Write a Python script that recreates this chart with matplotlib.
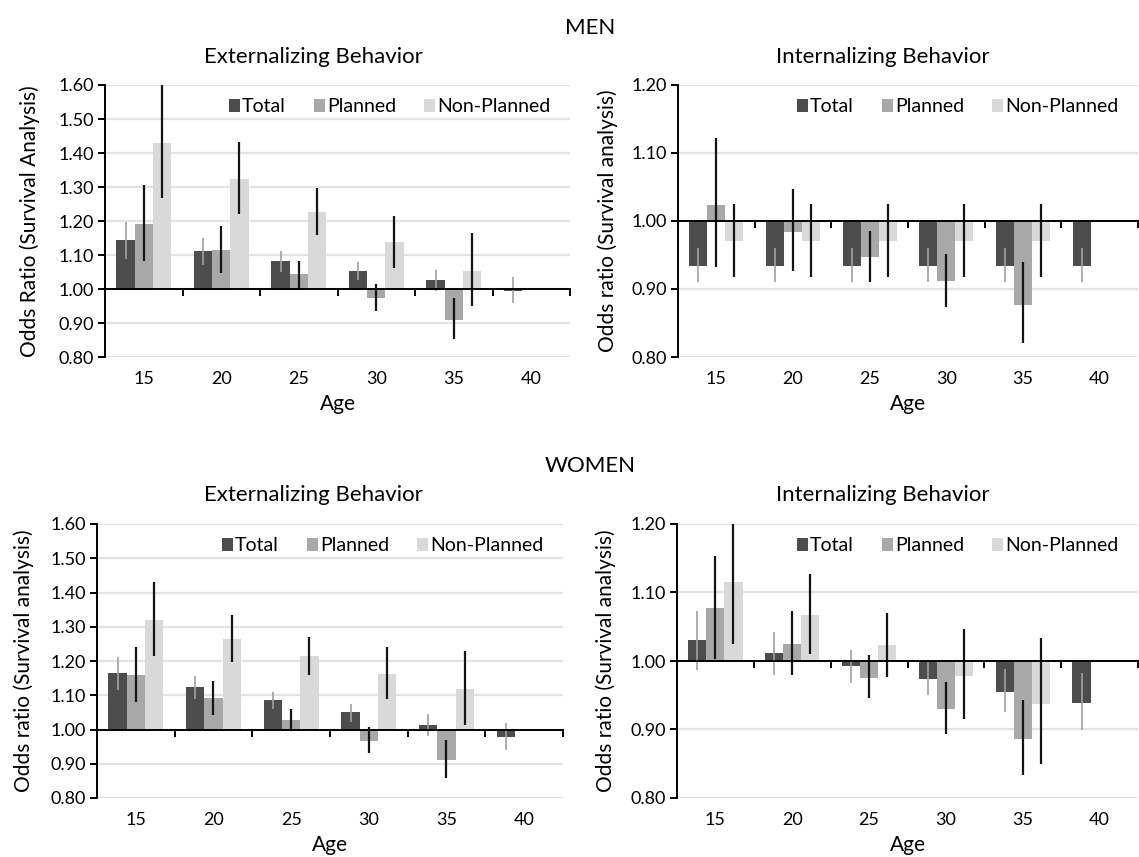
import numpy as np
import matplotlib.pyplot as plt

plt.rcParams['font.family'] = ['Lato', 'DejaVu Sans']

# ---- data (odds ratios) ----
ages = ["15", "20", "25", "30", "35", "40"]
groups = ["Total", "Planned", "Non-Planned"]

# men, externalizing
men_ext_total = [1.144, 1.113, 1.082, 1.054, 1.026, 0.995]
men_ext_total_lo = [1.088, 1.071, 1.051, 1.026, 0.993, 0.959]
men_ext_total_hi = [1.198, 1.150, 1.113, 1.078, 1.056, 1.035]
men_ext_planned = [1.191, 1.115, 1.043, 0.974, 0.910, np.nan]
men_ext_planned_lo = [1.083, 1.048, 1.000, 0.934, 0.853, np.nan]
men_ext_planned_hi = [1.306, 1.185, 1.082, 1.015, 0.974, np.nan]
men_ext_nonpl = [1.430, 1.323, 1.226, 1.137, 1.053, np.nan]
men_ext_nonpl_lo = [1.267, 1.220, 1.159, 1.062, 0.950, np.nan]
men_ext_nonpl_hi = [1.600, 1.433, 1.297, 1.215, 1.165, np.nan]

# men, internalizing
men_int_total = [0.934, 0.934, 0.934, 0.934, 0.934, 0.934]
men_int_total_lo = [0.911, 0.911, 0.911, 0.911, 0.911, 0.911]
men_int_total_hi = [0.960, 0.960, 0.960, 0.960, 0.960, 0.960]
men_int_planned = [1.024, 0.984, 0.947, 0.912, 0.877, np.nan]
men_int_planned_lo = [0.933, 0.927, 0.911, 0.874, 0.820, np.nan]
men_int_planned_hi = [1.122, 1.047, 0.986, 0.952, 0.939, np.nan]
men_int_nonpl = [0.970, 0.970, 0.970, 0.970, 0.970, np.nan]
men_int_nonpl_lo = [0.918, 0.918, 0.918, 0.918, 0.918, np.nan]
men_int_nonpl_hi = [1.025, 1.025, 1.025, 1.025, 1.025, np.nan]

# women, externalizing
wom_ext_total = [1.164, 1.123, 1.087, 1.050, 1.014, 0.977]
wom_ext_total_lo = [1.116, 1.089, 1.060, 1.023, 0.982, 0.939]
wom_ext_total_hi = [1.211, 1.156, 1.109, 1.074, 1.045, 1.020]
wom_ext_planned = [1.158, 1.092, 1.028, 0.966, 0.912, np.nan]
wom_ext_planned_lo = [1.081, 1.043, 0.996, 0.931, 0.858, np.nan]
wom_ext_planned_hi = [1.241, 1.141, 1.060, 1.008, 0.970, np.nan]
wom_ext_nonpl = [1.320, 1.265, 1.214, 1.163, 1.117, np.nan]
wom_ext_nonpl_lo = [1.215, 1.197, 1.159, 1.090, 1.013, np.nan]
wom_ext_nonpl_hi = [1.432, 1.334, 1.269, 1.241, 1.229, np.nan]

# women, internalizing
wom_int_total = [1.030, 1.012, 0.992, 0.973, 0.955, 0.938]
wom_int_total_lo = [0.987, 0.980, 0.968, 0.950, 0.925, 0.899]
wom_int_total_hi = [1.073, 1.042, 1.016, 0.998, 0.988, 0.982]
wom_int_planned = [1.077, 1.025, 0.975, 0.930, 0.886, np.nan]
wom_int_planned_lo = [1.003, 0.979, 0.946, 0.894, 0.833, np.nan]
wom_int_planned_hi = [1.154, 1.073, 1.009, 0.969, 0.943, np.nan]
wom_int_nonpl = [1.115, 1.067, 1.023, 0.978, 0.937, np.nan]
wom_int_nonpl_lo = [1.025, 1.010, 0.976, 0.916, 0.849, np.nan]
wom_int_nonpl_hi = [1.200, 1.127, 1.070, 1.046, 1.034, np.nan]

bar_colors = ["#4d4d4d", "#a8a8a8", "#d9d9d9"]
err_colors = ["#a0a0a0", "#151515", "#151515"]
err_widths = [1.2, 1.6, 1.6]

W, H = 1139, 857
fig = plt.figure(figsize=(W / 100, H / 100), dpi=100)


def px_axes(left, right, top, bottom):
    return fig.add_axes([left / W, (H - bottom) / H, (right - left) / W, (bottom - top) / H])


def panel(ax, series, ylim, ylabel, ylabelpad):
    x = np.arange(len(ages))
    bw = 0.235
    ymin, ymax = ylim
    for k, (vals, lo, hi) in enumerate(series):
        vals = np.array(vals, dtype=float)
        lo = np.array(lo, dtype=float)
        hi = np.array(hi, dtype=float)
        xs = x + (k - 1) * bw
        ax.bar(xs, vals - 1.0, bottom=1.0, width=bw, color=bar_colors[k],
               label=groups[k], zorder=2, linewidth=0)
        ax.vlines(xs, lo, hi, colors=err_colors[k], linewidth=err_widths[k], zorder=3)

    ax.set_xlim(-0.5, len(ages) - 0.5)
    ax.set_ylim(ymin, ymax)
    ax.set_yticks(np.round(np.arange(ymin, ymax + 0.001, 0.1), 2))
    ax.yaxis.set_major_formatter(plt.FormatStrFormatter("%.2f"))
    ax.grid(axis="y", color="#e3e3e3", linewidth=1.6, zorder=0)
    ax.set_axisbelow(True)

    for s in ["top", "right"]:
        ax.spines[s].set_visible(False)
    ax.spines["left"].set_linewidth(1.4)
    ax.spines["bottom"].set_position(("data", 1.0))
    ax.spines["bottom"].set_linewidth(1.4)
    ax.spines["bottom"].set_zorder(4)
    ax.set_xticks(np.arange(0.5, len(ages), 1.0))
    ax.set_xticklabels([])
    ax.tick_params(axis="x", direction="out", length=5, width=1.4)
    ax.tick_params(axis="y", direction="out", length=5, width=1.4, labelsize=13, pad=3)

    sec = ax.secondary_xaxis("bottom")
    sec.set_xticks(x, labels=ages)
    sec.tick_params(length=0, labelsize=13, pad=10)
    sec.spines["bottom"].set_visible(False)
    sec.set_xlabel("Age", fontsize=15, labelpad=5)

    ax.set_ylabel(ylabel, fontsize=15, labelpad=ylabelpad)
    ax.legend(loc="upper right", bbox_to_anchor=(0.975, 0.98), ncol=3, frameon=False,
              fontsize=14, handlelength=0.55, handleheight=0.7, handletextpad=0.12,
              columnspacing=1.45, borderaxespad=0.0)


ax1 = px_axes(105, 570, 85, 357)
panel(ax1,
      [(men_ext_total, men_ext_total_lo, men_ext_total_hi),
       (men_ext_planned, men_ext_planned_lo, men_ext_planned_hi),
       (men_ext_nonpl, men_ext_nonpl_lo, men_ext_nonpl_hi)],
      (0.8, 1.6), "Odds Ratio (Survival Analysis)", 13)

ax2 = px_axes(678, 1138, 85, 357)
panel(ax2,
      [(men_int_total, men_int_total_lo, men_int_total_hi),
       (men_int_planned, men_int_planned_lo, men_int_planned_hi),
       (men_int_nonpl, men_int_nonpl_lo, men_int_nonpl_hi)],
      (0.8, 1.2), "Odds ratio (Survival analysis)", 10)

ax3 = px_axes(97, 563, 524, 798)
panel(ax3,
      [(wom_ext_total, wom_ext_total_lo, wom_ext_total_hi),
       (wom_ext_planned, wom_ext_planned_lo, wom_ext_planned_hi),
       (wom_ext_nonpl, wom_ext_nonpl_lo, wom_ext_nonpl_hi)],
      (0.8, 1.6), "Odds ratio (Survival analysis)", 12)

ax4 = px_axes(677, 1138, 524, 798)
panel(ax4,
      [(wom_int_total, wom_int_total_lo, wom_int_total_hi),
       (wom_int_planned, wom_int_planned_lo, wom_int_planned_hi),
       (wom_int_nonpl, wom_int_nonpl_lo, wom_int_nonpl_hi)],
      (0.8, 1.2), "Odds ratio (Survival analysis)", 10)

# headings
fig.text(590 / W, 1 - 28 / H, "MEN", ha="center", va="center", fontsize=16)
fig.text(590 / W, 1 - 466 / H, "WOMEN", ha="center", va="center", fontsize=16)
fig.text(313 / W, 1 - 57 / H, "Externalizing Behavior", ha="center", va="center", fontsize=16)
fig.text(883 / W, 1 - 57 / H, "Internalizing Behavior", ha="center", va="center", fontsize=16)
fig.text(313 / W, 1 - 495 / H, "Externalizing Behavior", ha="center", va="center", fontsize=16)
fig.text(883 / W, 1 - 495 / H, "Internalizing Behavior", ha="center", va="center", fontsize=16)

fig.savefig("out.png", dpi=100)
